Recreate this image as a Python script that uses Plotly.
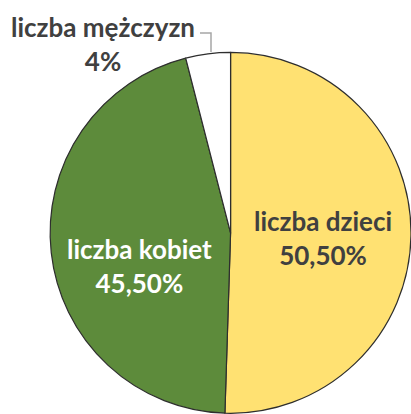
import plotly.graph_objects as go

labels = ["liczba dzieci", "liczba kobiet", "liczba mężczyzn"]
values = [50.5, 45.5, 4.0]
value_texts = ["50,50%", "45,50%", "4%"]
slice_colors = ["#FFE172", "#5D8B3B", "#FFFFFF"]
text_colors = ["#404040", "#FFFFFF", "#404040"]

W, H = 411, 414
def px(x):
    return x / W
def py(y):
    return 1 - y / H

FONT = "Lato"
FS = 26

fig = go.Figure(go.Pie(
    labels=labels,
    values=values,
    sort=False,
    direction="clockwise",
    rotation=0,
    marker=dict(colors=slice_colors, line=dict(color="#2E2E2E", width=1.2)),
    textinfo="none",
    domain=dict(x=[0.122, 1.0], y=[0.0, 0.875]),
    showlegend=False,
    hoverinfo="label+percent",
))

# label centres (pixels) for each slice label
label_pos = [(323, 238), (139, 266), (103, 44)]
for lab, vt, col, (lx, ly) in zip(labels, value_texts, text_colors, label_pos):
    fig.add_annotation(
        x=px(lx), y=py(ly), xref="paper", yref="paper",
        xanchor="center", yanchor="middle",
        text=f"{lab}<br>{vt}",
        showarrow=False,
        font=dict(family=FONT, size=FS, color=col, weight="bold"),
        align="center",
    )

fig.add_shape(
    type="path", xref="paper", yref="paper",
    path=f"M {px(200)} {py(33)} L {px(211)} {py(33)} L {px(211)} {py(52)}",
    line=dict(color="#A6A6A6", width=1.5),
)

fig.update_layout(
    width=W, height=H,
    margin=dict(l=0, r=0, t=0, b=0),
    paper_bgcolor="white",
    plot_bgcolor="white",
)

fig.write_html("out.html", post_script="document.body.style.margin='0';",
               config={"displayModeBar": False})
